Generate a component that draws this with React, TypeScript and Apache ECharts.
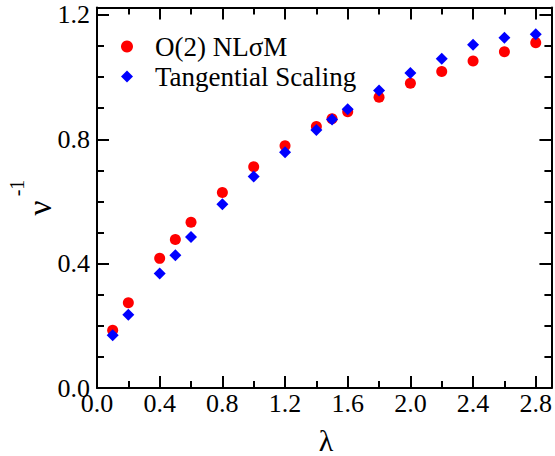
import React, { useEffect, useRef } from "react";
import * as echarts from "echarts";

const lambdas = [0.1, 0.2, 0.4, 0.5, 0.6, 0.8, 1.0, 1.2, 1.4, 1.5, 1.6, 1.8, 2.0, 2.2, 2.4, 2.6, 2.8];
const nlsmValues = [0.186, 0.274, 0.417, 0.478, 0.533, 0.629, 0.712, 0.779, 0.841, 0.866, 0.889, 0.935, 0.98, 1.018, 1.052, 1.082, 1.111];
const tangentialValues = [0.17, 0.236, 0.368, 0.427, 0.486, 0.591, 0.68, 0.758, 0.83, 0.864, 0.897, 0.957, 1.013, 1.059, 1.104, 1.127, 1.138];
const xMajorTicks = [0, 0.4, 0.8, 1.2, 1.6, 2.0, 2.4, 2.8];
const xMinorTicks = [0.2, 0.6, 1.0, 1.4, 1.8, 2.2, 2.6];
const yMajorTicks = [0, 0.4, 0.8, 1.2];
const yMinorTicks = [0.1, 0.2, 0.3, 0.5, 0.6, 0.7, 0.9, 1.0, 1.1];
const seriesNames = ["O(2) NLσM", "Tangential Scaling"];

const FONT = "Times New Roman, Times, serif";
const X_MIN = 0, X_MAX = 2.9, Y_MIN = 0, Y_MAX = 1.224;

function makeAxis(kind: "x" | "y", position: string, ticks: number[], len: number, showLine: boolean, showLabels: boolean) {
  return {
    type: "value",
    position,
    min: kind === "x" ? X_MIN : Y_MIN,
    max: kind === "x" ? X_MAX : Y_MAX,
    gridIndex: 0,
    axisLine: { show: showLine, onZero: false, lineStyle: { color: "#000", width: 2 } },
    axisTick: { show: true, inside: true, length: len, customValues: ticks, lineStyle: { color: "#000", width: 2 } },
    axisLabel: showLabels
      ? {
          show: true,
          customValues: ticks,
          formatter: (v: number) => v.toFixed(1),
          color: "#000",
          fontFamily: FONT,
          fontSize: 26,
          margin: kind === "x" ? 2 : 7,
        }
      : { show: false },
    splitLine: { show: false },
    minorTick: { show: false },
  };
}

export default function App() {
  const ref = useRef<HTMLDivElement>(null);
  useEffect(() => {
    if (!ref.current) return;
    const chart = echarts.init(ref.current, null, { renderer: "svg" });
    chart.setOption({
      animation: false,
      backgroundColor: "#fff",
      grid: { left: 97, top: 7.5, right: 2.5, bottom: 68, containLabel: false },
      xAxis: [
        makeAxis("x", "bottom", xMajorTicks, 12, true, true),
        makeAxis("x", "bottom", xMinorTicks, 7, false, false),
        makeAxis("x", "top", xMajorTicks, 12, true, false),
        makeAxis("x", "top", xMinorTicks, 7, false, false),
      ],
      yAxis: [
        makeAxis("y", "left", yMajorTicks, 12, true, true),
        makeAxis("y", "left", yMinorTicks, 7, false, false),
        makeAxis("y", "right", yMajorTicks, 12, true, false),
        makeAxis("y", "right", yMinorTicks, 7, false, false),
      ],
      legend: {
        orient: "vertical",
        left: 121,
        top: 33,
        padding: 0,
        itemWidth: 12,
        itemHeight: 12,
        itemGap: 3,
        textStyle: { fontFamily: FONT, fontSize: 27, color: "#000", lineHeight: 27, padding: [0, 0, 0, 17] },
        data: [
          { name: seriesNames[0], icon: "circle" },
          { name: seriesNames[1], icon: "diamond" },
        ],
      },
      graphic: [
        { type: "text", x: 326, y: 440, style: { text: "λ", fontFamily: FONT, fontSize: 30, fill: "#000", align: "center", verticalAlign: "middle" } },
        { type: "text", x: 40, y: 208, rotation: Math.PI / 2, style: { text: "ν", fontFamily: FONT, fontSize: 33, fill: "#000", align: "center", verticalAlign: "middle" } },
        { type: "text", x: 17, y: 188, rotation: Math.PI / 2, style: { text: "-1", fontFamily: FONT, fontSize: 20, fill: "#000", align: "center", verticalAlign: "middle" } },
      ],
      series: [
        {
          name: seriesNames[0],
          type: "scatter",
          xAxisIndex: 0,
          yAxisIndex: 0,
          symbol: "circle",
          symbolSize: 11,
          itemStyle: { color: "#ff0000", opacity: 1 },
          data: lambdas.map((x, i) => [x, nlsmValues[i]]),
          z: 2,
        },
        {
          name: seriesNames[1],
          type: "scatter",
          xAxisIndex: 0,
          yAxisIndex: 0,
          symbol: "diamond",
          symbolSize: 12,
          itemStyle: { color: "#0000ff", opacity: 1 },
          data: lambdas.map((x, i) => [x, tangentialValues[i]]),
          z: 3,
        },
      ],
    });
    return () => chart.dispose();
  }, []);
  return <div ref={ref} style={{ width: 555, height: 456, position: "absolute", left: 0, top: 0 }} />;
}
